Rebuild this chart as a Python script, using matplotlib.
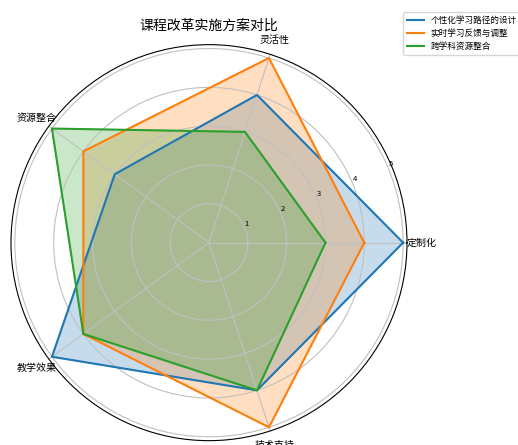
import numpy as np
import matplotlib
matplotlib.use('Agg')
import matplotlib.pyplot as plt

plt.rcParams['font.family'] = ['Noto Sans CJK SC', 'DejaVu Sans']

categories = ['定制化', '灵活性', '资源整合', '教学效果', '技术支持']
series_names = ['个性化学习路径的设计', '实时学习反馈与调整', '跨学科资源整合']
personalized = [5, 4, 3, 5, 4]
realtime = [4, 5, 4, 4, 5]
cross = [3, 3, 5, 4, 4]
r_ticks = [1, 2, 3, 4, 5]

angles = np.linspace(0, 2 * np.pi, len(categories), endpoint=False).tolist()
angles_closed = angles + angles[:1]

fig = plt.figure(figsize=(5.18, 4.45), dpi=100)
ax = fig.add_axes([0.0212, 0.0097, 0.7645, 0.890], projection='polar')

for name, vals in zip(series_names, [personalized, realtime, cross]):
    v = vals + vals[:1]
    line, = ax.plot(angles_closed, v, linewidth=1.5, label=name)
    ax.fill(angles_closed, v, color=line.get_color(), alpha=0.25)

ax.set_xticks(angles)
ax.set_xticklabels(categories, fontsize=7.2)
ax.set_yticks(r_ticks)
ax.set_yticklabels([str(t) for t in r_ticks], fontsize=5.5)
ax.set_ylim(0, 5.1)
ax.grid(color='#c0c0c0', linewidth=0.8)
ax.tick_params(axis='x', pad=0)
ax.set_title('课程改革实施方案对比', fontsize=10, pad=11)

fig.legend(loc='upper left', bbox_to_anchor=(399 / 518, 1 - 8 / 445), fontsize=6.2)

fig.savefig('out.png', dpi=100)
